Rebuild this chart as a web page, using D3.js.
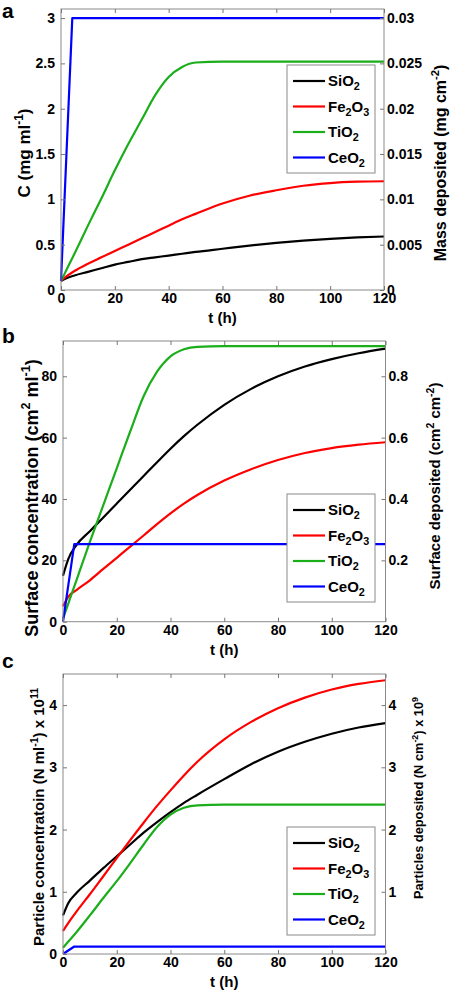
<!DOCTYPE html>
<html><head><meta charset="utf-8">
<script src="https://cdn.jsdelivr.net/npm/d3@7"></script>
<style>
body{margin:0;background:#fff}
svg{display:block}
text{font-family:Arial,"Liberation Sans",sans-serif;font-weight:bold;fill:#000}
</style>
</head><body>
<svg id="fig" width="450" height="992"></svg>
<script>
// ---------- data ----------
const hours   = [0,2,5,10,15,20,25,30,35,40,45,50,60,70,80,90,100,110,120];
const ceHours = [0,4.2,120];
const seriesNames = ["SiO2","Fe2O3","TiO2","CeO2"];
const seriesColors = ["#000000","#ff0000","#1aae1a","#0000ff"];
const xTicks = [0,20,40,60,80,100,120];

// panel a: mass concentration C (mg ml-1)
const aSiO2  = [0.10,0.13,0.16,0.20,0.24,0.28,0.31,0.34,0.36,0.38,0.40,0.42,0.455,0.49,0.52,0.545,0.565,0.58,0.59];
const aFe2O3 = [0.10,0.15,0.21,0.29,0.36,0.43,0.50,0.57,0.64,0.71,0.78,0.84,0.955,1.04,1.10,1.15,1.18,1.195,1.20];
const aTiO2  = [0.10,0.22,0.40,0.71,1.01,1.32,1.61,1.88,2.15,2.35,2.46,2.51,2.52,2.52,2.52,2.52,2.52,2.52,2.52];
const aCeO2  = [0.10,3.00,3.00];
const aLeftTicks  = [0,0.5,1,1.5,2,2.5,3];
const aRightTicks = [0,0.005,0.01,0.015,0.02,0.025,0.03];

// panel b: surface concentration (cm2 ml-1)
const bSiO2  = [15,20.5,25,29.5,34,38.5,43,47.5,52,56.4,60.5,64.2,70.7,75.9,80,83.2,85.6,87.5,89];
const bFe2O3 = [5,8.2,10.3,13.5,17.2,20.8,24.5,28.1,31.8,35.3,38.5,41.3,46,49.7,52.7,55,56.6,57.7,58.5];
const bTiO2  = [1,6,13.5,26,38,50,62,73.5,81.5,86.5,88.8,89.6,89.8,89.8,89.8,89.8,89.8,89.8,89.8];
const bCeO2  = [0,25.3,25.3];
const bLeftTicks  = [0,20,40,60,80];
const bRightTicks = [0.2,0.4,0.6,0.8];

// panel c: particle concentration (N ml-1) x 10^11
const cSiO2  = [0.62,0.82,0.98,1.18,1.38,1.57,1.76,1.95,2.12,2.28,2.43,2.56,2.81,3.05,3.25,3.41,3.54,3.64,3.71];
const cFe2O3 = [0.37,0.50,0.68,0.96,1.25,1.54,1.83,2.11,2.38,2.63,2.87,3.09,3.45,3.73,3.95,4.12,4.25,4.34,4.40];
const cTiO2  = [0.10,0.20,0.35,0.62,0.90,1.17,1.46,1.76,2.04,2.24,2.35,2.39,2.40,2.40,2.40,2.40,2.40,2.40,2.40];
const cCeO2  = [0,0.12,0.12];
const cLeftTicks  = [0,1,2,3,4];
const cRightTicks = [1,2,3,4];

// ---------- drawing ----------
const svg = d3.select("#fig");

function chem(sel, name, size){
  const parts = name.match(/[A-Za-z]+|\d+/g);
  parts.forEach((p,k)=>{
    if(/^\d+$/.test(p)){
      sel.append("tspan").attr("font-size",size*0.72).attr("dy",4).text(p);
    } else {
      const t = sel.append("tspan").text(p);
      if(k>0) t.attr("dy",-4);
    }
  });
}

function richTitle(sel, pieces, size){
  let shifted = 0;
  pieces.forEach(([txt, kind])=>{
    const t = sel.append("tspan").text(txt);
    if(kind==="sup"){ t.attr("font-size",size*0.7).attr("dy",-size*0.42); shifted=size*0.42; }
    else if(shifted){ t.attr("dy",shifted); shifted=0; }
  });
}

function panel(cfg){
  const x = d3.scaleLinear().domain([0,120]).range([cfg.x0,cfg.x1]);
  const y = d3.scaleLinear().domain([0,cfg.yMax]).range([cfg.yB,cfg.yT]);
  const yR = d3.scaleLinear().domain([0,cfg.yMax*cfg.rightFactor]).range([cfg.yB,cfg.yT]);
  const g = svg.append("g");

  const line = d3.line().x(d=>x(d[0])).y(d=>y(d[1]));
  cfg.series.forEach((s,i)=>{
    const pts = s.t.map((t,j)=>[t,s.v[j]]);
    g.append("path").datum(pts)
      .attr("d", line.curve(s.smooth?d3.curveMonotoneX:d3.curveLinear))
      .attr("fill","none").attr("stroke",seriesColors[i]).attr("stroke-width",2.2)
      .attr("stroke-linejoin","round");
  });

  g.append("rect").attr("x",cfg.x0).attr("y",cfg.yT)
    .attr("width",cfg.x1-cfg.x0).attr("height",cfg.yB-cfg.yT)
    .attr("fill","none").attr("stroke","#8a8a8a").attr("stroke-width",1);

  const fs = 14;
  const styleAxis = a => { a.select(".domain").remove();
    a.selectAll(".tick line").attr("stroke","#777");
    a.selectAll(".tick text").attr("font-size",fs).attr("font-family","Arial, Liberation Sans, sans-serif").attr("font-weight","bold").attr("fill","#000"); };

  g.append("g").attr("transform",`translate(0,${cfg.yB})`)
    .call(d3.axisBottom(x).tickValues(xTicks).tickSize(-4).tickPadding(3).tickFormat(d3.format("d")))
    .call(styleAxis);
  g.append("g").attr("transform",`translate(0,${cfg.yT})`)
    .call(d3.axisTop(x).tickValues(xTicks).tickSize(-4).tickFormat(""))
    .call(styleAxis);
  g.append("g").attr("transform",`translate(${cfg.x0},0)`)
    .call(d3.axisLeft(y).tickValues(cfg.leftTicks).tickSize(-4).tickPadding(6).tickFormat(d=>String(d)))
    .call(styleAxis);
  g.append("g").attr("transform",`translate(${cfg.x1},0)`)
    .call(d3.axisRight(yR).tickValues(cfg.rightTicks).tickSize(-4).tickPadding(3).tickFormat(d=>String(d)))
    .call(styleAxis);

  g.append("text").attr("x",(cfg.x0+cfg.x1)/2).attr("y",cfg.yB+33)
    .attr("text-anchor","middle").attr("font-size",15).text("t (h)");
  const cy = (cfg.yT+cfg.yB)/2;
  const lt = g.append("text").attr("transform",`translate(${cfg.leftTitleX},${cfg.leftTitleY||cy}) rotate(-90)`)
    .attr("text-anchor","middle").attr("font-size",cfg.leftFs);
  richTitle(lt, cfg.leftTitle, cfg.leftFs);
  const rt = g.append("text").attr("transform",`translate(${cfg.rightTitleX},${cfg.rightTitleY||cy}) rotate(-90)`)
    .attr("text-anchor","middle").attr("font-size",cfg.rightFs);
  richTitle(rt, cfg.rightTitle, cfg.rightFs);

  g.append("text").attr("x",2).attr("y",cfg.letterY).attr("font-size",21).text(cfg.letter);

  const lx0=287, lx1=375, ly0=cfg.legendTop, rowH=25.5;
  g.append("rect").attr("x",lx0).attr("y",ly0).attr("width",lx1-lx0).attr("height",108)
    .attr("fill","#fff").attr("stroke","#8a8a8a").attr("stroke-width",1);
  seriesNames.forEach((n,i)=>{
    const ry = ly0+16+i*rowH;
    g.append("line").attr("x1",lx0+6).attr("x2",lx0+38).attr("y1",ry).attr("y2",ry)
      .attr("stroke",seriesColors[i]).attr("stroke-width",2.2);
    const t = g.append("text").attr("x",lx0+41).attr("y",ry+5).attr("font-size",15);
    chem(t,n,15);
  });
}

panel({letter:"a", letterY:18, x0:61, x1:384, yT:9, yB:290, yMax:3.1, rightFactor:0.01,
  leftTicks:aLeftTicks, rightTicks:aRightTicks, legendTop:65,
  leftTitleX:30, leftFs:17, leftTitleY:153, rightTitleX:446, rightFs:16, rightTitleY:163,
  leftTitle:[["C (mg ml",null],["-1","sup"],[")",null]],
  rightTitle:[["Mass deposited (mg cm",null],["-2","sup"],[")",null]],
  series:[{t:hours,v:aSiO2,smooth:true},{t:hours,v:aFe2O3,smooth:true},{t:hours,v:aTiO2,smooth:true},{t:ceHours,v:aCeO2}]});

panel({letter:"b", letterY:343, x0:63, x1:385.5, yT:341, yB:621.7, yMax:91.5, rightFactor:0.01,
  leftTicks:bLeftTicks, rightTicks:bRightTicks, legendTop:494,
  leftTitleX:38, leftFs:18, leftTitleY:498, rightTitleX:440, rightFs:15, rightTitleY:486,
  leftTitle:[["Surface concentration (cm",null],["2","sup"],[" ml",null],["-1","sup"],[")",null]],
  rightTitle:[["Surface deposited (cm",null],["2","sup"],[" cm",null],["-2","sup"],[")",null]],
  series:[{t:hours,v:bSiO2,smooth:true},{t:hours,v:bFe2O3,smooth:true},{t:hours,v:bTiO2,smooth:true},{t:ceHours,v:bCeO2}]});

panel({letter:"c", letterY:668, x0:63, x1:385.5, yT:674, yB:954, yMax:4.5, rightFactor:1,
  leftTicks:cLeftTicks, rightTicks:cRightTicks, legendTop:827,
  leftTitleX:44, leftFs:15, leftTitleY:817, rightTitleX:423, rightFs:12.8, rightTitleY:798,
  leftTitle:[["Particle concentratoin (N ml",null],["-1","sup"],[") x 10",null],["11","sup"]],
  rightTitle:[["Particles deposited (N cm",null],["-2","sup"],[") x 10",null],["9","sup"]],
  series:[{t:hours,v:cSiO2,smooth:true},{t:hours,v:cFe2O3,smooth:true},{t:hours,v:cTiO2,smooth:true},{t:ceHours,v:cCeO2}]});
</script>
</body></html>
